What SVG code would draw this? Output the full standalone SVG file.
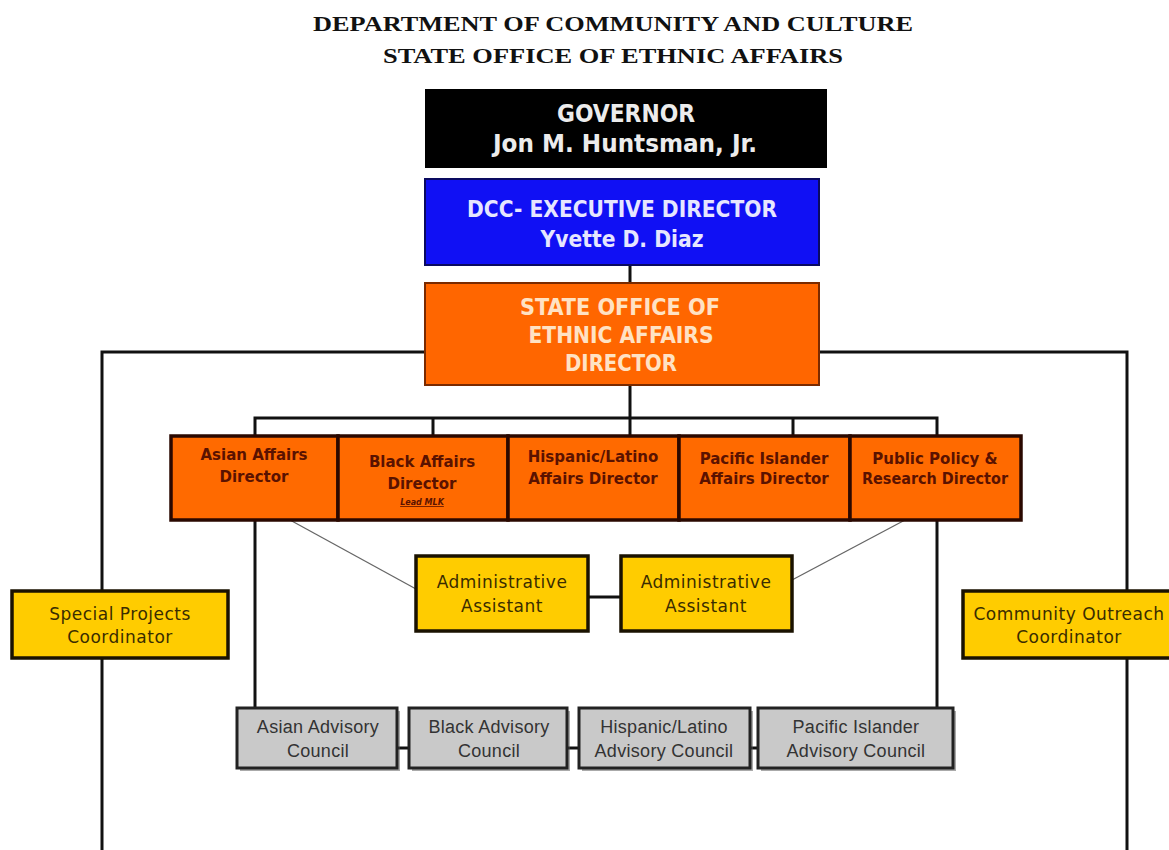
<svg xmlns="http://www.w3.org/2000/svg" width="1169" height="850" viewBox="0 0 1169 850">
<style>
.title{font-family:"Liberation Serif","Times New Roman",serif;font-weight:bold;font-size:22px;fill:#111;text-anchor:middle}
.top{font-family:"DejaVu Sans Condensed","DejaVu Sans",sans-serif;font-weight:bold;font-size:23px;text-anchor:middle}
.gov{font-family:"DejaVu Sans Condensed","DejaVu Sans",sans-serif;font-weight:bold;font-size:24px;fill:#ececec;text-anchor:middle}
.dir{font-family:"DejaVu Sans",Verdana,sans-serif;font-weight:bold;font-size:15px;fill:#5a1200;text-anchor:middle}
.yel{font-family:"DejaVu Sans",Verdana,sans-serif;font-size:17px;letter-spacing:0.5px;fill:#3a2c00;text-anchor:middle}
.adv{font-family:"Liberation Sans",Arial,sans-serif;font-size:18px;letter-spacing:0.3px;fill:#333;text-anchor:middle}
.ln{stroke:#111;stroke-width:3;fill:none}
.thin{stroke:#666;stroke-width:1.3;fill:none}
.orange{fill:#ff6a00;stroke:#2a0800;stroke-width:3.5}
.yellow{fill:#ffcc00;stroke:#1a1200;stroke-width:3.5}
.grey{fill:#c9c9c9;stroke:#222;stroke-width:3}
.shadow{fill:#555;opacity:0.5}
</style>
<rect width="1169" height="850" fill="#fff"/>
<g id="title">
<text class="title" x="613" y="31" textLength="600" lengthAdjust="spacingAndGlyphs">DEPARTMENT OF COMMUNITY AND CULTURE</text>
<text class="title" x="613" y="63" textLength="460" lengthAdjust="spacingAndGlyphs">STATE OFFICE OF ETHNIC AFFAIRS</text>
</g>
<g id="connectors">
<line class="ln" x1="630" y1="265" x2="630" y2="436"/>
<polyline class="ln" points="425,352 102,352 102,850"/>
<polyline class="ln" points="819,352 1127,352 1127,850"/>
<polyline class="ln" points="255,436 255,418 937,418 937,436"/>
<line class="ln" x1="433" y1="418" x2="433" y2="436"/>
<line class="ln" x1="793" y1="418" x2="793" y2="436"/>
<line class="ln" x1="255" y1="520" x2="255" y2="708"/>
<line class="ln" x1="937" y1="520" x2="937" y2="708"/>
<line class="thin" x1="290" y1="520" x2="416" y2="589"/>
<line class="thin" x1="905" y1="520" x2="792" y2="580"/>
<line class="ln" x1="588" y1="597" x2="621" y2="597"/>
<line class="ln" x1="397" y1="748" x2="409" y2="748"/>
<line class="ln" x1="567" y1="748" x2="579" y2="748"/>
<line class="ln" x1="750" y1="748" x2="758" y2="748"/>
</g>
<g id="governor">
<rect x="425" y="89" width="402" height="79" fill="#000"/>
<text class="gov" x="626" y="122" textLength="138" lengthAdjust="spacingAndGlyphs">GOVERNOR</text>
<text class="gov" x="625" y="152" textLength="264" lengthAdjust="spacingAndGlyphs">Jon M. Huntsman, Jr.</text>
</g>
<g id="dcc">
<rect x="425" y="179" width="394" height="86" fill="#1010f4" stroke="#0a0a60" stroke-width="2"/>
<text class="top" x="622" y="217" fill="#e6e6ff" textLength="310" lengthAdjust="spacingAndGlyphs">DCC- EXECUTIVE DIRECTOR</text>
<text class="top" x="622" y="247" fill="#e6e6ff" textLength="163" lengthAdjust="spacingAndGlyphs">Yvette D. Diaz</text>
</g>
<g id="soea">
<rect x="425" y="283" width="394" height="102" fill="#ff6600" stroke="#7a2a00" stroke-width="2"/>
<text class="top" x="620" y="315" fill="#ffe2c4" textLength="200" lengthAdjust="spacingAndGlyphs">STATE OFFICE OF</text>
<text class="top" x="621" y="343" fill="#ffe2c4" textLength="185" lengthAdjust="spacingAndGlyphs">ETHNIC AFFAIRS</text>
<text class="top" x="621" y="371" fill="#ffe2c4" textLength="112" lengthAdjust="spacingAndGlyphs">DIRECTOR</text>
</g>
<g id="asian-dir">
<rect class="orange" x="171" y="436" width="167" height="84"/>
<text class="dir" x="254" y="460">Asian Affairs</text>
<text class="dir" x="254" y="482">Director</text>
</g>
<g id="black-dir">
<rect class="orange" x="338" y="436" width="170" height="84"/>
<text class="dir" x="422" y="467">Black Affairs</text>
<text class="dir" x="422" y="489">Director</text>
<text x="422" y="505" font-family="DejaVu Sans, sans-serif" font-size="8" font-weight="bold" font-style="italic" fill="#5a1200" text-anchor="middle" text-decoration="underline">Lead MLK</text>
</g>
<g id="hispanic-dir">
<rect class="orange" x="508" y="436" width="171" height="84"/>
<text class="dir" x="593" y="462">Hispanic/Latino</text>
<text class="dir" x="593" y="484">Affairs Director</text>
</g>
<g id="pacific-dir">
<rect class="orange" x="679" y="436" width="171" height="84"/>
<text class="dir" x="764" y="464">Pacific Islander</text>
<text class="dir" x="764" y="484">Affairs Director</text>
</g>
<g id="policy-dir">
<rect class="orange" x="850" y="436" width="171" height="84"/>
<text class="dir" x="935" y="464">Public Policy &amp;</text>
<text class="dir" x="935" y="484" textLength="146" lengthAdjust="spacingAndGlyphs">Research Director</text>
</g>
<g id="admin-1">
<rect class="yellow" x="416" y="556" width="172" height="75"/>
<text class="yel" x="502" y="588">Administrative</text>
<text class="yel" x="502" y="612">Assistant</text>
</g>
<g id="admin-2">
<rect class="yellow" x="621" y="556" width="171" height="75"/>
<text class="yel" x="706" y="588">Administrative</text>
<text class="yel" x="706" y="612">Assistant</text>
</g>
<g id="special-projects">
<rect class="yellow" x="12" y="591" width="216" height="67"/>
<text class="yel" x="120" y="620">Special Projects</text>
<text class="yel" x="120" y="643">Coordinator</text>
</g>
<g id="community-outreach">
<rect class="yellow" x="963" y="591" width="220" height="67"/>
<text class="yel" x="1069" y="620">Community Outreach</text>
<text class="yel" x="1069" y="643">Coordinator</text>
</g>
<g id="asian-council">
<rect class="shadow" x="240" y="711" width="160" height="60"/>
<rect class="grey" x="237" y="708" width="160" height="60"/>
<text class="adv" x="318" y="733">Asian Advisory</text>
<text class="adv" x="318" y="757">Council</text>
</g>
<g id="black-council">
<rect class="shadow" x="412" y="711" width="158" height="60"/>
<rect class="grey" x="409" y="708" width="158" height="60"/>
<text class="adv" x="489" y="733">Black Advisory</text>
<text class="adv" x="489" y="757">Council</text>
</g>
<g id="hispanic-council">
<rect class="shadow" x="582" y="711" width="171" height="60"/>
<rect class="grey" x="579" y="708" width="171" height="60"/>
<text class="adv" x="664" y="733">Hispanic/Latino</text>
<text class="adv" x="664" y="757">Advisory Council</text>
</g>
<g id="pacific-council">
<rect class="shadow" x="761" y="711" width="195" height="60"/>
<rect class="grey" x="758" y="708" width="195" height="60"/>
<text class="adv" x="856" y="733">Pacific Islander</text>
<text class="adv" x="856" y="757">Advisory Council</text>
</g>
</svg>
